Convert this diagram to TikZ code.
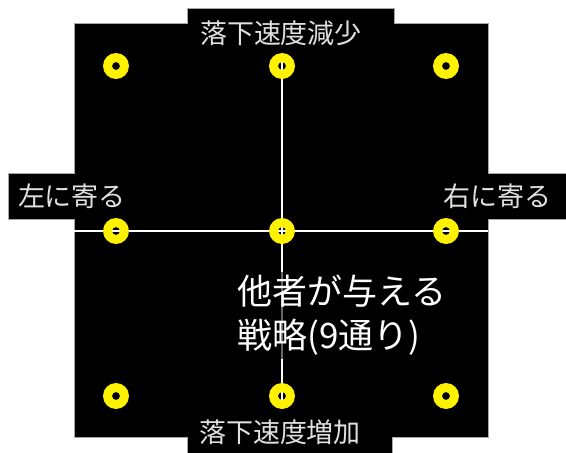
\documentclass[tikz,border=0pt]{standalone}
\usepackage{fontspec}
\setmainfont{Noto Sans CJK JP}
\begin{document}
\begin{tikzpicture}[x=1pt,y=-1pt,
  dot/.style={circle,minimum size=26pt,inner sep=0pt},
  edgelabel/.style={text=white!88!black,font=\fontsize{27}{29}\selectfont,inner sep=0pt},
  wline/.style={draw=white,line width=2pt}]
\useasboundingbox (0,0) rectangle (566,453);
% black background shape
\fill[black,draw=gray!70,line width=0.6pt] (74,23) -- (187,23) -- (187,8) -- (394,8) -- (394,23) -- (488,23)
  -- (488,173) -- (566,173) -- (566,219) -- (488,219) -- (488,437) -- (392,437) -- (392,453)
  -- (187,453) -- (187,437) -- (74,437) -- (74,219) -- (8,219) -- (8,173) -- (74,173) -- cycle;
% nine dots
\foreach \i/\x in {1/116,2/282,3/446}{
  \foreach \j/\y in {1/66,2/231,3/396}{
    \node[dot] (c\i\j) at (\x,\y) {};
  }
}
\coordinate (lw) at (74,231);
\coordinate (le) at (488,231);
% lines
\draw[wline] (lw) -- (le);
\draw[wline] (c21.north) -- (c23.south);
% labels
\node[edgelabel] (top) at (281,33) {落下速度減少};
\node[edgelabel] (bot) at (280,432) {落下速度増加};
\node[edgelabel] (lft) at (72,196) {左に寄る};
\node[edgelabel] (rgt) at (497,196) {右に寄る};
% rings
\foreach \n in {c11,c12,c13,c21,c22,c23,c31,c32,c33}{
  \fill[yellow,even odd rule] (\n.center) circle (13) (\n.center) circle (4);
}
% overlay text
\node[fill=black,fill opacity=0.6,text opacity=1,text=white,align=left,
  inner xsep=2pt,inner ysep=3pt,anchor=north west,
  font=\fontsize{35}{44}\selectfont] (txt) at (235,272) {他者が与える\\戦略(9通り)};
\end{tikzpicture}
\end{document}
